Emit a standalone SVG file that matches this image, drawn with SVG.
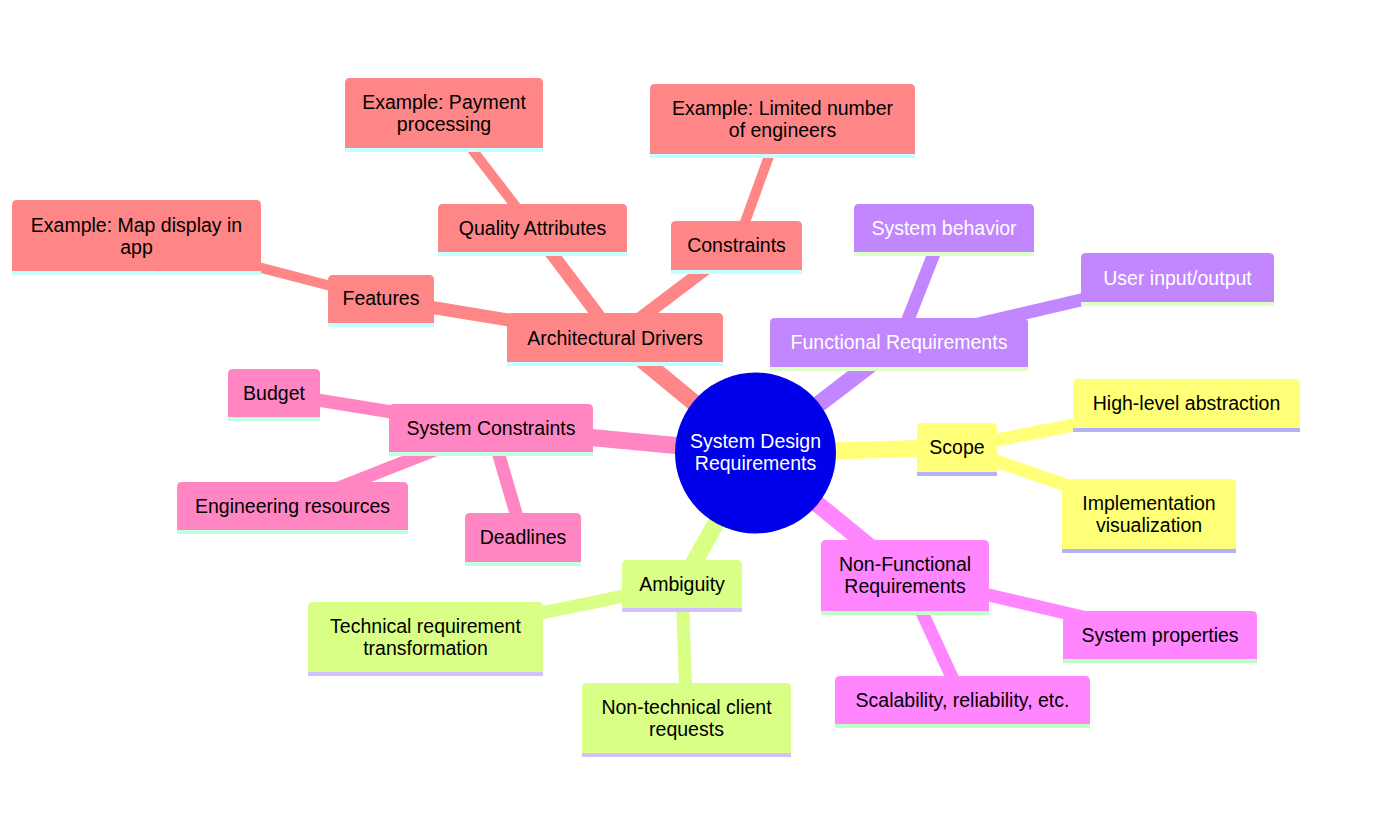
<svg xmlns="http://www.w3.org/2000/svg" width="1382" height="837" viewBox="0 0 1382 837">
<style>
text{font-family:"Liberation Sans",Arial,sans-serif;font-size:19.5px;text-anchor:middle;fill:#000}
.wt{fill:#fff}
.e0{stroke-width:17;fill:none}
.e1{stroke-width:13;fill:none}
.e2{stroke-width:10;fill:none}
.red{fill:#FF8686}.redL{stroke:#FF8686}.redU{fill:#C4FFFF}
.pur{fill:#C286FF}.purL{stroke:#C286FF}.purU{fill:#E0FFC8}
.yel{fill:#FFFF78}.yelL{stroke:#FFFF78}.yelU{fill:#B2B2F8}
.grn{fill:#D9FF86}.grnL{stroke:#D9FF86}.grnU{fill:#D2C0FF}
.mag{fill:#FF86FF}.magL{stroke:#FF86FF}.magU{fill:#BEFFC6}
.pnk{fill:#FF86C2}.pnkL{stroke:#FF86C2}.pnkU{fill:#C2FFE0}
</style>
<rect width="1382" height="837" fill="#fff"/>
<g id="connectors">
<line class="e0 redL" x1="755" y1="453" x2="615" y2="337.5"/>
<line class="e1 redL" x1="615" y1="337.5" x2="381" y2="299"/>
<line class="e1 redL" x1="615" y1="337.5" x2="532.5" y2="228"/>
<line class="e1 redL" x1="615" y1="337.5" x2="736.5" y2="245.5"/>
<line class="e2 redL" x1="381" y1="299" x2="136.5" y2="235.5"/>
<line class="e2 redL" x1="532.5" y1="228" x2="444" y2="113"/>
<line class="e2 redL" x1="736.5" y1="245.5" x2="782.5" y2="119"/>
<line class="e0 purL" x1="755" y1="453" x2="899" y2="342.5"/>
<line class="e1 purL" x1="899" y1="342.5" x2="944" y2="228"/>
<line class="e1 purL" x1="899" y1="342.5" x2="1177.5" y2="277.5"/>
<line class="e0 pnkL" x1="755" y1="453" x2="491" y2="428"/>
<line class="e1 pnkL" x1="491" y1="428" x2="274" y2="393"/>
<line class="e1 pnkL" x1="491" y1="428" x2="292.5" y2="506"/>
<line class="e1 pnkL" x1="491" y1="428" x2="523" y2="537.5"/>
<line class="e0 yelL" x1="755" y1="453" x2="957" y2="447.5"/>
<line class="e1 yelL" x1="957" y1="447.5" x2="1186.5" y2="403.5"/>
<line class="e1 yelL" x1="957" y1="447.5" x2="1149" y2="514"/>
<line class="e0 grnL" x1="755" y1="453" x2="682" y2="584"/>
<line class="e1 grnL" x1="682" y1="584" x2="425.5" y2="637"/>
<line class="e1 grnL" x1="682" y1="584" x2="686.5" y2="718"/>
<line class="e0 magL" x1="755" y1="453" x2="905" y2="575.5"/>
<line class="e1 magL" x1="905" y1="575.5" x2="1160" y2="635"/>
<line class="e1 magL" x1="905" y1="575.5" x2="962.5" y2="700"/>
</g>
<g id="root">
<circle cx="755.5" cy="453" r="80.5" fill="#0000EA"/>
<text class="wt" x="755.5" y="448">System Design</text>
<text class="wt" x="755.5" y="470">Requirements</text>
</g>
<g id="n-arch">
<path class="red" d="M507 362V318Q507 313 512 313H718Q723 313 723 318V362Z"/><rect class="redU" x="507" y="362" width="216" height="4"/>
<text x="615" y="345">Architectural Drivers</text>
</g>
<g id="n-features">
<path class="red" d="M328 323V280Q328 275 333 275H429Q434 275 434 280V323Z"/><rect class="redU" x="328" y="323" width="106" height="4"/>
<text x="381" y="305">Features</text>
</g>
<g id="n-mapex">
<path class="red" d="M12 271V205Q12 200 17 200H256Q261 200 261 205V271Z"/><rect class="redU" x="12" y="271" width="249" height="4"/>
<text x="136.5" y="232">Example: Map display in</text>
<text x="136.5" y="254">app</text>
</g>
<g id="n-quality">
<path class="red" d="M438 252V209Q438 204 443 204H622Q627 204 627 209V252Z"/><rect class="redU" x="438" y="252" width="189" height="4"/>
<text x="532.5" y="235">Quality Attributes</text>
</g>
<g id="n-payex">
<path class="red" d="M345 148V83Q345 78 350 78H538Q543 78 543 83V148Z"/><rect class="redU" x="345" y="148" width="198" height="4"/>
<text x="444" y="109">Example: Payment</text>
<text x="444" y="131">processing</text>
</g>
<g id="n-constraints">
<path class="red" d="M671 270V226Q671 221 676 221H797Q802 221 802 226V270Z"/><rect class="redU" x="671" y="270" width="131" height="4"/>
<text x="736.5" y="252">Constraints</text>
</g>
<g id="n-limex">
<path class="red" d="M650 154V89Q650 84 655 84H910Q915 84 915 89V154Z"/><rect class="redU" x="650" y="154" width="265" height="4"/>
<text x="782.5" y="115">Example: Limited number</text>
<text x="782.5" y="137">of engineers</text>
</g>
<g id="n-func">
<path class="pur" d="M770 367V323Q770 318 775 318H1023Q1028 318 1028 323V367Z"/><rect class="purU" x="770" y="367" width="258" height="4"/>
<text class="wt" x="899" y="349">Functional Requirements</text>
</g>
<g id="n-sysbeh">
<path class="pur" d="M854 252V209Q854 204 859 204H1029Q1034 204 1034 209V252Z"/><rect class="purU" x="854" y="252" width="180" height="4"/>
<text class="wt" x="944" y="235">System behavior</text>
</g>
<g id="n-userio">
<path class="pur" d="M1081 302V258Q1081 253 1086 253H1269Q1274 253 1274 258V302Z"/><rect class="purU" x="1081" y="302" width="193" height="4"/>
<text class="wt" x="1177.5" y="285">User input/output</text>
</g>
<g id="n-sysconst">
<path class="pnk" d="M389 452V409Q389 404 394 404H588Q593 404 593 409V452Z"/><rect class="pnkU" x="389" y="452" width="204" height="4"/>
<text x="491" y="435">System Constraints</text>
</g>
<g id="n-budget">
<path class="pnk" d="M228 417V374Q228 369 233 369H315Q320 369 320 374V417Z"/><rect class="pnkU" x="228" y="417" width="92" height="4"/>
<text x="274" y="400">Budget</text>
</g>
<g id="n-engres">
<path class="pnk" d="M177 530V487Q177 482 182 482H403Q408 482 408 487V530Z"/><rect class="pnkU" x="177" y="530" width="231" height="4"/>
<text x="292.5" y="513">Engineering resources</text>
</g>
<g id="n-deadlines">
<path class="pnk" d="M465 562V518Q465 513 470 513H576Q581 513 581 518V562Z"/><rect class="pnkU" x="465" y="562" width="116" height="4"/>
<text x="523" y="544">Deadlines</text>
</g>
<g id="n-scope">
<path class="yel" d="M917 472V428Q917 423 922 423H992Q997 423 997 428V472Z"/><rect class="yelU" x="917" y="472" width="80" height="4"/>
<text x="957" y="454">Scope</text>
</g>
<g id="n-highlevel">
<path class="yel" d="M1073 428V384Q1073 379 1078 379H1295Q1300 379 1300 384V428Z"/><rect class="yelU" x="1073" y="428" width="227" height="4"/>
<text x="1186.5" y="410">High-level abstraction</text>
</g>
<g id="n-impl">
<path class="yel" d="M1062 549V484Q1062 479 1067 479H1231Q1236 479 1236 484V549Z"/><rect class="yelU" x="1062" y="549" width="174" height="4"/>
<text x="1149" y="510">Implementation</text>
<text x="1149" y="532">visualization</text>
</g>
<g id="n-ambiguity">
<path class="grn" d="M622 608V565Q622 560 627 560H737Q742 560 742 565V608Z"/><rect class="grnU" x="622" y="608" width="120" height="4"/>
<text x="682" y="591">Ambiguity</text>
</g>
<g id="n-techreq">
<path class="grn" d="M308 672V607Q308 602 313 602H538Q543 602 543 607V672Z"/><rect class="grnU" x="308" y="672" width="235" height="4"/>
<text x="425.5" y="633">Technical requirement</text>
<text x="425.5" y="655">transformation</text>
</g>
<g id="n-nontech">
<path class="grn" d="M582 753V688Q582 683 587 683H786Q791 683 791 688V753Z"/><rect class="grnU" x="582" y="753" width="209" height="4"/>
<text x="686.5" y="714">Non-technical client</text>
<text x="686.5" y="736">requests</text>
</g>
<g id="n-nonfunc">
<path class="mag" d="M821 611V545Q821 540 826 540H984Q989 540 989 545V611Z"/><rect class="magU" x="821" y="611" width="168" height="4"/>
<text x="905" y="571">Non-Functional</text>
<text x="905" y="593">Requirements</text>
</g>
<g id="n-sysprop">
<path class="mag" d="M1063 659V616Q1063 611 1068 611H1252Q1257 611 1257 616V659Z"/><rect class="magU" x="1063" y="659" width="194" height="4"/>
<text x="1160" y="642">System properties</text>
</g>
<g id="n-scal">
<path class="mag" d="M835 724V681Q835 676 840 676H1085Q1090 676 1090 681V724Z"/><rect class="magU" x="835" y="724" width="255" height="4"/>
<text x="962.5" y="707">Scalability, reliability, etc.</text>
</g>
</svg>
